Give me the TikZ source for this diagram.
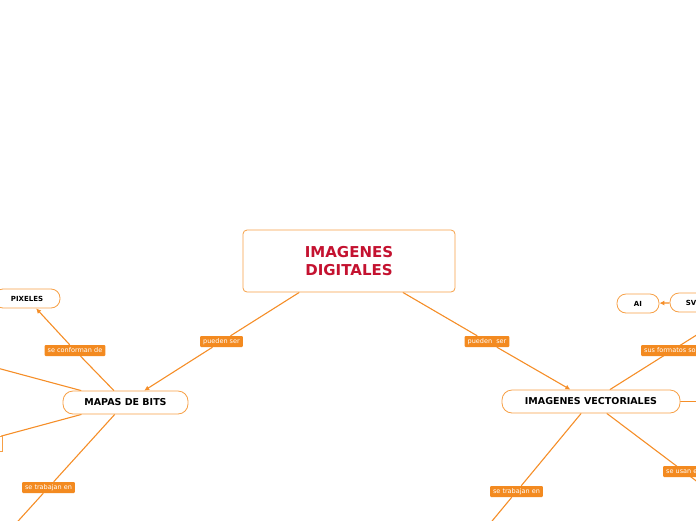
\documentclass[tikz,border=0pt]{standalone}
\usepackage{fontspec}
\setmainfont{DejaVu Sans}
\usetikzlibrary{arrows.meta,backgrounds}
\definecolor{lineor}{RGB}{245,142,40}
\definecolor{boxor}{RGB}{247,160,70}
\definecolor{lblor}{RGB}{243,138,32}
\definecolor{titlered}{RGB}{196,18,48}
\begin{document}
\begin{tikzpicture}[x=1pt,y=-1pt,
  topic/.style={draw=boxor, line width=0.8pt, rounded corners=4pt, fill=white, minimum width=212pt, minimum height=62pt, align=center, font=\bfseries\fontsize{15}{18}\selectfont, text=titlered},
  sub/.style={draw=boxor, line width=0.8pt, rounded corners=10pt, fill=white, minimum height=23pt, font=\bfseries\fontsize{9.5}{11}\selectfont},
  leaf/.style={draw=boxor, line width=0.8pt, rounded corners=9pt, fill=white, minimum height=19pt, font=\bfseries\fontsize{7}{8}\selectfont},
  lbl/.style={fill=lblor, text=white, rounded corners=1pt, inner xsep=3pt, inner ysep=0pt, minimum height=11pt, font=\fontsize{6.5}{8}\selectfont},
  conn/.style={draw=lineor, line width=1.1pt},
  arr/.style={conn, -{Latex[length=5pt,width=5pt]}}
]
\useasboundingbox (0,0) rectangle (696,520);
\clip (0,0) rectangle (696,520);
% nodes
\node[topic] (ID) at (349,261) {IMAGENES\\DIGITALES};
\node[sub, minimum width=125pt] (MB) at (125.5,402.5) {MAPAS DE BITS};
\node[sub, minimum width=178pt] (IV) at (591,401.5) {IMAGENES VECTORIALES};
\node[leaf, minimum width=66pt] (PX) at (27,298.5) {PIXELES};
\node[leaf, minimum width=42pt] (AI) at (638,303.5) {AI};
\node[leaf, minimum width=48pt] (SVG) at (694,302.5) {SVG};
\node[draw=boxor, line width=0.8pt, minimum width=60pt, minimum height=15pt, inner sep=0pt] (LB) at (-28,444) {};
% labels
\node[lbl] (l1) at (221.5,341.5) {pueden ser};
\node[lbl] (l2) at (487,341.5) {pueden\ \ ser};
\node[lbl] (l3) at (75,350.5) {se conforman de};
\node[lbl] (l4) at (48.5,487.5) {se trabajan en};
\node[lbl, anchor=west] (l5) at (641,350.5) {sus formatos son};
\node[lbl, anchor=west] (l6) at (663,471.5) {se usan en};
\node[lbl] (l7) at (516.5,491.5) {se trabajan en};
% free ends
\coordinate (e1) at (-40,358);
\coordinate (e2) at (-28.5,572.5);
\coordinate (e3) at (753,299.5);
\coordinate (e4) at (776,541.5);
\coordinate (e5) at (442,581.5);
\coordinate (e6) at (760,401.5);
\begin{pgfonlayer}{background}
\clip (0,0) rectangle (696,520);
\draw[conn] (ID) -- (l1);
\draw[arr] (l1) -- (MB);
\draw[conn] (ID) -- (l2);
\draw[arr] (l2) -- (IV);
\draw[conn] (MB) -- (l3);
\draw[arr] (l3) -- (PX);
\draw[conn] (MB) -- (e1);
\draw[conn] (MB) -- (LB);
\draw[conn] (MB) -- (l4) -- (e2);
\draw[conn] (IV) -- (l5.center) -- (e3);
\draw[conn] (IV) -- (l6.center) -- (e4);
\draw[conn] (IV) -- (l7) -- (e5);
\draw[conn] (IV) -- (e6);
\draw[arr] (SVG) -- (AI);
\end{pgfonlayer}
\end{tikzpicture}
\end{document}
